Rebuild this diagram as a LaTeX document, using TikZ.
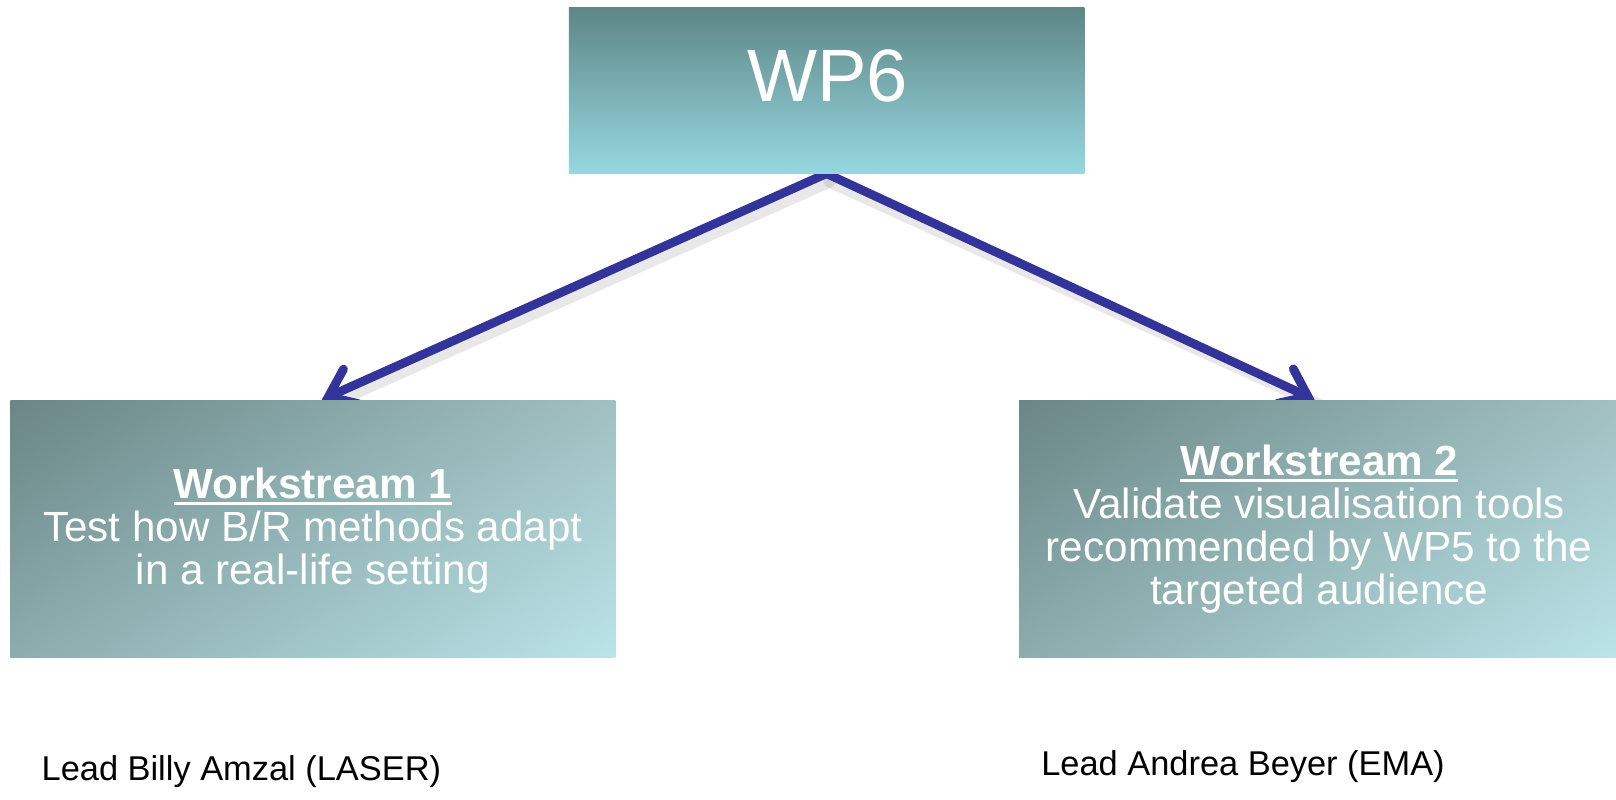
\documentclass[tikz,border=0pt]{standalone}
\usepackage{fontspec}
\setmainfont{Liberation Sans}
\usetikzlibrary{arrows.meta,shadings,backgrounds}
\definecolor{arrowblue}{RGB}{51,51,153}
\definecolor{topdark}{RGB}{94,134,134}
\definecolor{toplight}{RGB}{150,216,224}
\definecolor{ul}{RGB}{106,134,134}
\definecolor{ur}{RGB}{160,192,193}
\definecolor{ll}{RGB}{140,172,173}
\definecolor{lr}{RGB}{186,228,233}
\newcommand\myul[1]{\leavevmode\setbox0=\hbox{#1}\copy0\llap{\rule[-3.3pt]{\wd0}{1.5pt}}}
\begin{document}
\begin{tikzpicture}[x=0.5153pt,y=-0.5153pt,
  topbox/.style={draw=none,shade,top color=topdark,bottom color=toplight,minimum width=257.7pt,minimum height=83pt,inner sep=0pt},
  wsbox/.style={draw=none,shade,upper left=ul,upper right=ur,lower left=ll,lower right=lr,minimum height=128.6pt,inner sep=0pt},
  wstext/.style={text=white,align=center,font=\fontsize{21.1}{21.6}\selectfont,inner sep=0pt},
  leadtext/.style={text=black,font=\fontsize{17.2}{20}\selectfont,inner sep=0pt,anchor=base west},
  conn/.style={draw=arrowblue,line width=4.4pt,line cap=round,line join=round,-{Straight Barb[length=12.5pt,width=19pt,line cap=round]}},
  shadowln/.style={draw=black,line width=6pt,opacity=0.09,line cap=round}
]
\useasboundingbox (0,0) rectangle (1568,775.3);
\node[topbox] (top) at (802,87.5) {};
\node[text=white,font=\fontsize{37.1}{41}\selectfont,anchor=base,inner sep=0pt] (wp6) at (803,98.5) {WP6};
\node[wsbox,minimum width=302.5pt] (lb) at (303.5,513) {};
\node[wsbox,minimum width=298.4pt] (rb) at (1278.5,513) {};
\node[wstext] (lbt) at (303.5,515) {\textbf{\myul{Workstream 1}}\\Test how B/R methods adapt\\in a real-life setting};
\node[wstext] (rbt) at (1280,513.5) {\textbf{\myul{Workstream 2}}\\Validate visualisation tools\\recommended by WP5 to the\\targeted audience};
\node[leadtext] (llead) at (40,757) {Lead Billy Amzal (LASER)};
\node[leadtext] (rlead) at (1010,752) {Lead Andrea Beyer (EMA)};
\begin{scope}[on background layer]
\draw[shadowln] ([shift={(1.5pt,-4pt)}]top.south) -- ([shift={(7pt,-3pt)}]lb.north);
\draw[shadowln] ([shift={(1.5pt,-4pt)}]top.south) -- ([shift={(2pt,-3pt)}]rb.north);
\draw[conn] (top.south) -- ([shift={(4.5pt,0pt)}]lb.north);
\draw[conn] (top.south) -- ([shift={(-1.5pt,0pt)}]rb.north);
\end{scope}
\end{tikzpicture}
\end{document}
